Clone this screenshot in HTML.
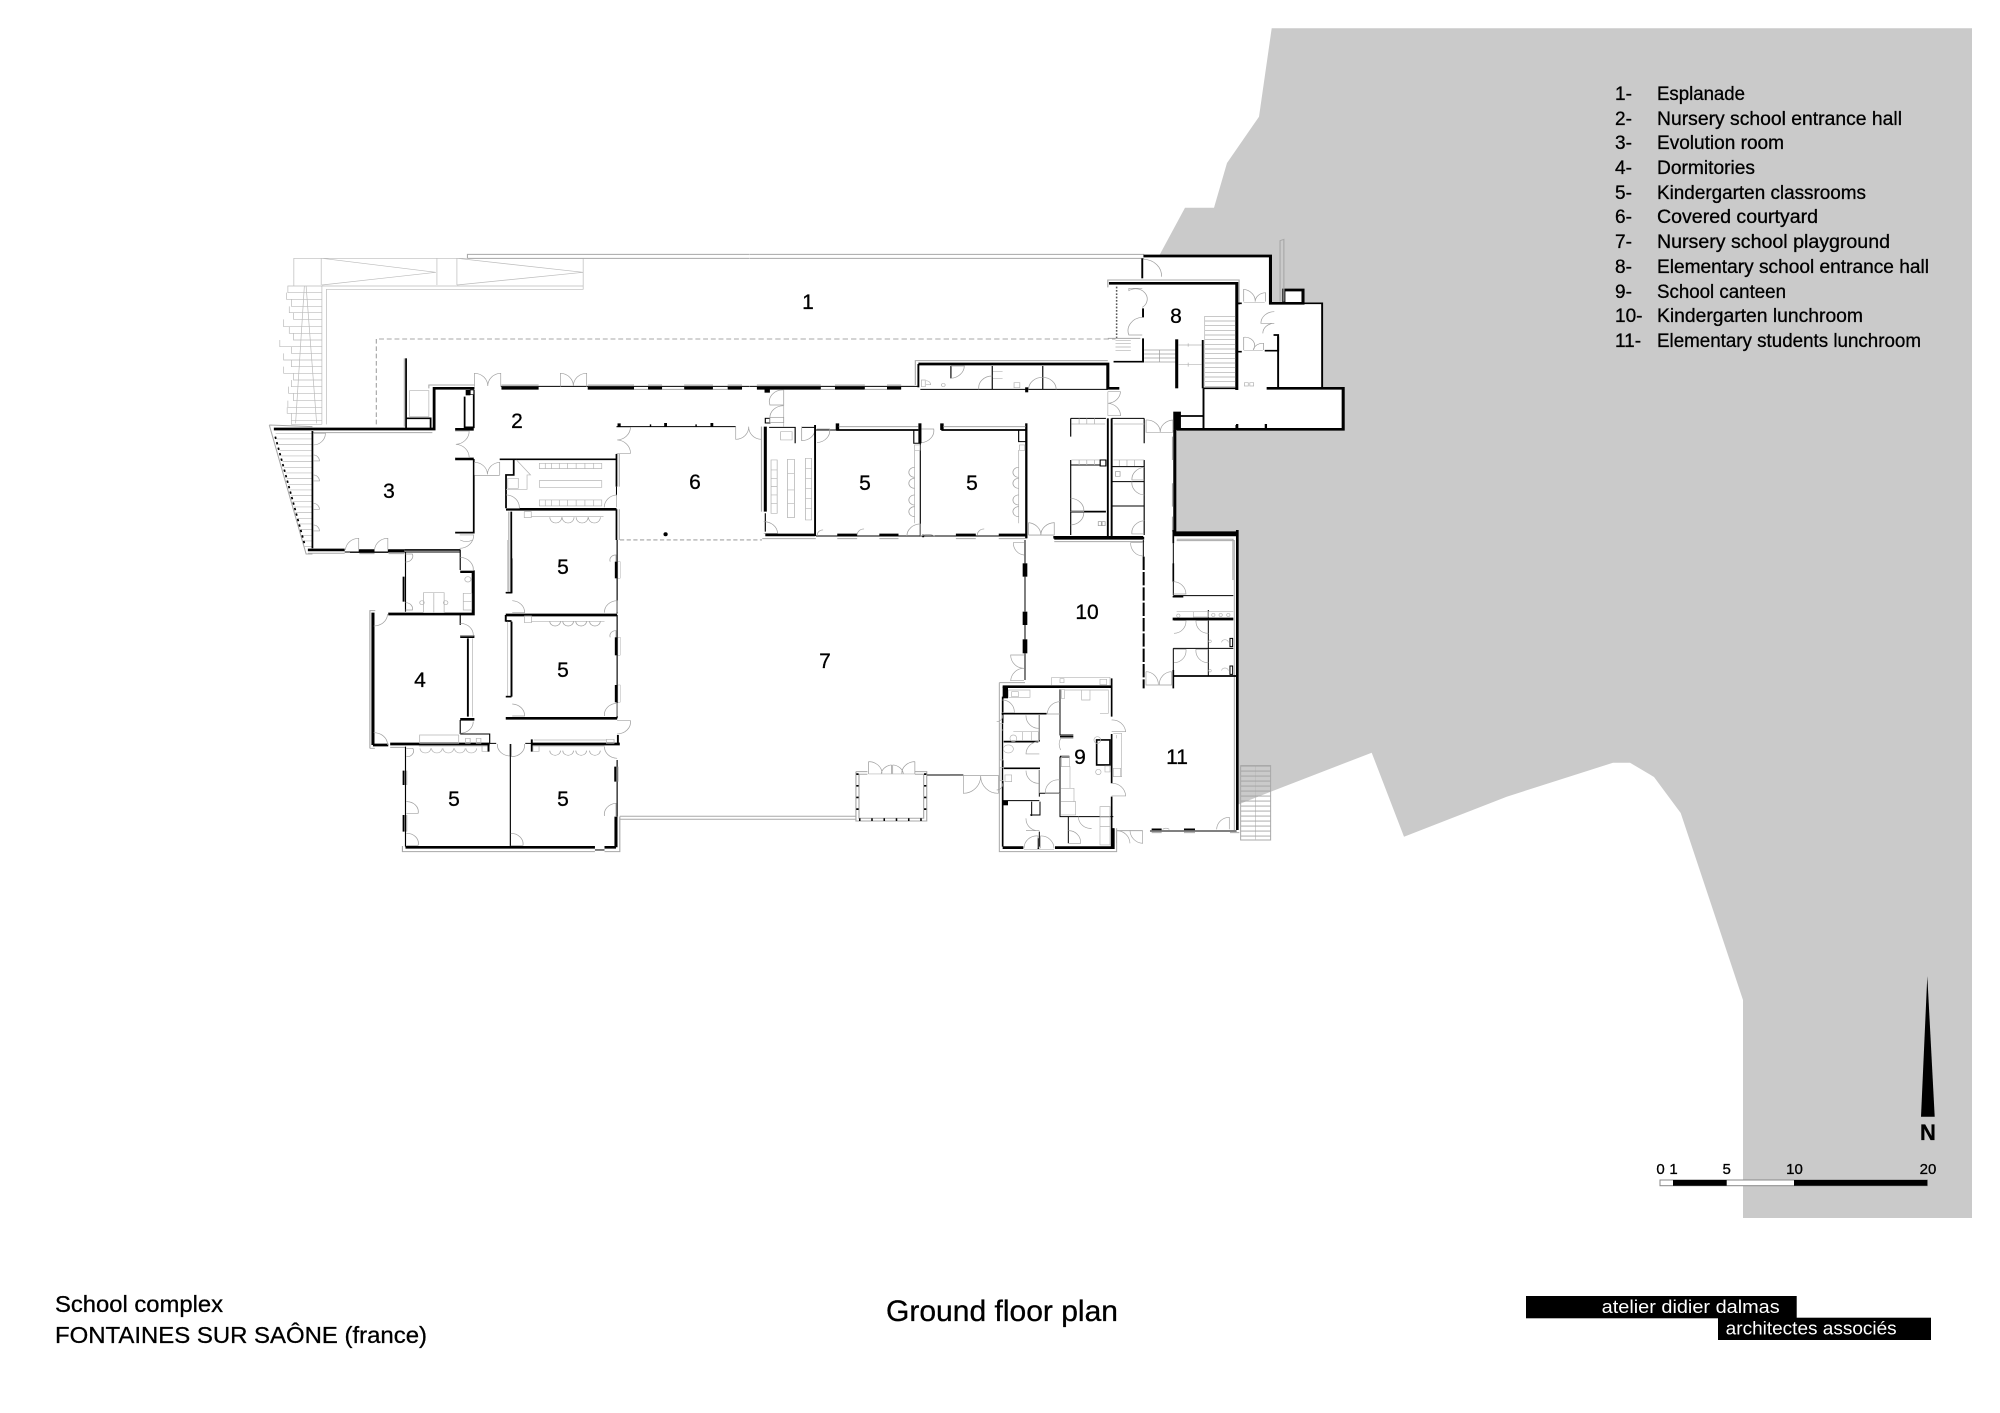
<!DOCTYPE html>
<html><head><meta charset="utf-8"><title>Ground floor plan</title>
<style>
html,body{margin:0;padding:0;background:#fff}
svg{display:block}
text{font-family:"Liberation Sans",sans-serif;fill:#000;stroke:#000;stroke-width:.3}
.w,.m,.t,.g,.d,.l,.f{fill:none}
.w{stroke:#000;stroke-width:8}
.m{stroke:#000;stroke-width:5}
.t{stroke:#000;stroke-width:3}
.g{stroke:#a8a8a8;stroke-width:3}
.d{stroke:#a0a0a0;stroke-width:2}
.l{stroke:#bbb;stroke-width:2}
.f{stroke:#b5b5b5;stroke-width:2}
</style></head><body>
<svg xmlns="http://www.w3.org/2000/svg" width="2000" height="1413" viewBox="0 0 2000 1413">
<rect width="2000" height="1413" fill="#fff"/>
<path fill="#cacaca" d="M1271.7,28.3H1972V1218H1743V1000L1680.7,813L1654,777L1630,762.7H1613L1506.7,796.7L1404,836.7L1371.7,752.7L1270.7,791.7L1237,805V535H1175V430H1343V388H1322V303H1302V290H1284V303H1270.5V256H1159L1185,207.7H1214L1227,163L1259,116.7Z"/>

<!-- ZONE 1 -->
<g transform="translate(250,230) scale(.3507,.3333)">
<path class="l" d="M125,168V85H950V178H218V583M205,583V168H950M203,85V165M533,85V165M590,85V165M205,85L530,127L205,165M590,85L950,127L590,165"/>
<path class="g" d="M620,85V73H1425M620,85H1425"/>
<path class="l" d="M205,168H108V188H205M104,188V208H205M118,208V229H205M112,229V248H205M124,248V268H205M96,268V290H205M112,290V310H205M124,310V330H205M85,330V350H205M118,350V370H205M96,370V390H205M118,390V410H205M96,410V430H205M124,430V450H205M118,450V470H205M110,470V490H205M124,490V512H205M108,512V532H205M106,532V550H205M118,550V572H205M118,572V583H205"/>
<path class="l" d="M155,168L130,580M160,168L190,580"/>
<path d="M360,583V327H1425" fill="none" stroke="#8a8a8a" stroke-width="2.5" stroke-dasharray="14 8"/>
<!-- left triangular stair -->
<path class="g" d="M55,585L178,590M55,585L160,972L178,972"/>
<path class="l" d="M73,610H178M77,627H178M81,644H178M85,661H178M89,678H178M93,695H178M97,712H178M101,729H178M105,746H178M109,763H178M113,780H178M117,797H178M121,814H178M125,831H178M129,848H178M134,865H178M138,882H178M142,899H178M146,916H178M150,933H178M154,950H178"/>
<path d="M72,620L155,940" fill="none" stroke="#000" stroke-width="5" stroke-dasharray="7 10"/>
<!-- walls -->
<path class="w" d="M68,597H525V475H640"/>
<path class="m" d="M445,385V597"/>
<path class="g" d="M440,385V590M510,475V465H640"/>
<path class="g" d="M178,608H520"/>
<path class="m" d="M445,565H515V597"/>
<rect x="455" y="482" width="55" height="78" class="f"/>
<path class="m" d="M612,500V592H638V480"/>
<rect x="615" y="480" width="13" height="16" fill="#000"/>
<rect x="628" y="480" width="10" height="14" fill="#fff" stroke="#000" stroke-width="2"/>
<path class="w" d="M585,598H638M585,687H638"/>
<path class="m" d="M638,687V908H585M178,603V955"/>
<path class="w" d="M165,960H270M310,962H355M393,962H440"/>
<path class="t" d="M270,966H600"/>
<path class="m" d="M440,960H600"/>
<path class="g" d="M165,970H270M312,971H355M395,971H440"/>
<!-- corridor north -->
<path class="t" d="M715,469H1425"/>
<path class="w" d="M717,475H823M963,475H1095M1135,475H1175M1238,475H1320M1362,475H1403"/>
<path class="g" d="M717,465H823M963,465H1095M1135,465H1175M1238,465H1320M1362,465H1403M1095,478H1135M1175,478H1238M1320,478H1362"/>
<!-- courtyard north -->
<path class="t" d="M1045,590H1385"/>
<path d="M1048,580h9v10h-9zM1140,583h4v7h-4zM1181,579h8v11h-8zM1270,583h4v7h-4zM1313,579h8v11h-8z" fill="#000"/>
<!-- block south of 2 -->
<path class="m" d="M712,688H1045"/>
<path class="m" d="M752,688V735H730V835"/>
<path class="w" d="M730,838H1045"/>
<path class="m" d="M1045,672V770M1045,838V930"/>
<path class="g" d="M1053,672V770M1053,838V930"/>
<path class="t" d="M1045,770V796"/>
<path class="f" d="M825,700h178v16H825zM825,752h178v20H825zM825,810h178v18H825zM842,700v16M860,700v16M882,700v16M905,700v16M930,700v16M955,700v16M980,700v16M842,810v18M860,810v18M882,810v18M905,810v18M930,810v18M955,810v18M980,810v18"/>
<path class="f" d="M760,690L800,735H790V778H730M735,745h30v30h-30z"/>
<!-- room 5 north walls -->
<path class="m" d="M745,845V1088"/>
<path class="g" d="M738,845V1088"/>
<path class="f" d="M782,845h20v18h-20zM802,860H1008"/>
<path class="d" d="M855,862a17,17 0 0 0 34,0M890,862a17,17 0 0 0 34,0M930,862a17,17 0 0 0 34,0M965,862a17,17 0 0 0 34,0"/>
<!-- doors -->
<path class="d" d="M640,470V430A38,38 0 0 1 678,468M715,470V430A38,38 0 0 0 678,468M885,470V430A38,38 0 0 1 922,468M960,470V430A38,38 0 0 0 922,468"/>
<path class="d" d="M1385,590V628A37,37 0 0 0 1422,590M1458,590V628A37,37 0 0 1 1422,590"/>
<path class="d" d="M1045,592H1085A40,40 0 0 1 1047,630M1045,670H1085A40,40 0 0 0 1047,630"/>
<path class="d" d="M585,603H625A40,40 0 0 1 587,643M585,683H625A40,40 0 0 0 587,643"/>
<path class="d" d="M640,735V697A37,37 0 0 1 677,733M712,735V697A37,37 0 0 0 677,733M640,737H712"/>
<path class="d" d="M180,675a18,18 0 0 1 18,18H180M180,735a18,18 0 0 1 18,18H180M180,820a18,18 0 0 1 18,18H180M180,885a18,18 0 0 1 18,18H180M180,610H215A35,35 0 0 1 180,645"/>
<path class="d" d="M272,960A38,38 0 0 1 310,925V960M355,960A38,38 0 0 1 393,925V960"/>
<path class="d" d="M598,915H638A40,40 0 0 1 598,955"/>
<path class="d" d="M730,795A38,38 0 0 1 768,835H730M1010,832A38,38 0 0 1 1045,795V832"/>
<!-- courtyard dashed -->
<path d="M1055,930H1460" fill="none" stroke="#8a8a8a" stroke-width="2.5" stroke-dasharray="12 7"/>
<circle cx="1185" cy="913" r="6" fill="#000"/>
</g>

<!-- ZONE 2 -->
<g transform="translate(750,230) scale(.3827,.3333)">
<path class="g" d="M0,73H1030M0,85H1030"/>
<path d="M0,327H955" fill="none" stroke="#8a8a8a" stroke-width="2.5" stroke-dasharray="14 8"/>
<path class="w" d="M1028,78H1360V220H1445V180H1395V220"/>
<path class="m" d="M1025,85V145"/>
<path class="d" d="M1028,88A48,48 0 0 1 1075,140"/>
<path class="g" d="M935,172V150H1278V225"/>
<path class="w" d="M938,160H1272V480"/>
<path class="m" d="M1272,220H1285M1272,365H1285M1345,362H1380V315H1368"/>
<path class="d" d="M1025,175H990V182A30,30 0 0 1 1025,232M1025,315H990A40,40 0 0 1 1025,262"/>
<path class="m" d="M1027,235V262M1027,325V395H950"/>
<path d="M958,170V325" fill="none" stroke="#555" stroke-width="4" stroke-dasharray="5 5"/>
<path d="M975,330V370" fill="none" stroke="#b0b0b0" stroke-width="40" stroke-dasharray="2 8"/>
<path class="g" d="M935,325H1020"/>
<path class="d" d="M1030,360H1115M1030,372H1115M1030,384H1115M1030,396H1115M1070,360V396"/>
<path class="w" d="M1115,328V475"/>
<path class="m" d="M1183,330V475"/>
<path class="f" d="M1120,345H1180M1120,404H1180M1145,340V350M1145,398V410"/>
<path d="M1228,258V470" fill="none" stroke="#a8a8a8" stroke-width="80" stroke-dasharray="2 12"/>
<path class="l" d="M1188,258V470"/>
<path class="m" d="M1185,475H1275M1185,475V595M1125,558H1183"/>
<rect x="1106" y="545" width="20" height="55" fill="#000"/>
<path class="w" d="M1115,598H1550V475H1350"/>
<path class="m" d="M1380,475V320M1495,475V220H1370"/>
<path class="t" d="M1270,585V598M1348,585V598"/>
<path d="M1270,582h6v16h-6zM1345,582h6v16h-6z" fill="#000"/>
<path class="g" d="M1385,215V32L1395,28V215"/>
<path class="d" d="M1290,215V178A35,35 0 0 1 1320,215M1347,215V188A28,28 0 0 0 1320,215M1290,360V322A25,25 0 0 1 1315,360M1342,360V340A25,25 0 0 0 1315,360M1370,245A35,35 0 0 0 1335,280H1370A30,30 0 0 0 1340,310"/>
<path class="f" d="M1290,218H1345M1290,362H1340M1292,458h10v10h-10zM1306,458h10v10h-10z"/>
<!-- service wing -->
<path class="g" d="M432,465V392H935"/>
<path class="w" d="M440,402H935V475H965"/>
<path class="m" d="M440,402V472"/>
<path class="t" d="M445,478H935M525,408V445M633,408V478M765,408V478"/>
<path class="d" d="M525,408H560A38,38 0 0 1 525,445M598,478A35,35 0 0 1 633,438M728,478A36,36 0 0 1 800,478"/>
<path class="f" d="M448,450h10v20h-10zM460,452a12,12 0 0 1 12,12H460M505,470a5,5 0 1 1 .1,0M690,458h15v15h-15zM635,425h25M635,445h25"/>
<rect x="719" y="472" width="8" height="15" fill="#000"/>
<!-- corridor north -->
<path class="t" d="M0,469H440"/>
<path class="w" d="M18,475H185M222,475H300M358,475H395"/>
<path class="g" d="M18,465H185M222,465H300M358,465H395M185,478H222M300,478H358"/>
<rect x="38" y="478" width="14" height="10" fill="#000"/>
<path class="d" d="M88,480V525H52A35,35 0 0 1 88,480M88,527A36,36 0 0 0 52,565"/>
<path class="f" d="M88,480V590"/>
<!-- kitchenette -->
<path class="w" d="M40,590V845"/>
<path class="g" d="M30,590V845"/>
<path class="t" d="M40,850V905M50,592H118V640M135,592H170"/>
<rect x="40" y="565" width="12" height="14" fill="#fff" stroke="#000" stroke-width="3"/>
<rect x="52" y="562" width="36" height="16" fill="#fff" stroke="#999" stroke-width="2"/>
<path class="f" d="M80,605h30v25H80zM55,690h16v160H55zM98,688h18v175H98zM145,685h16v185H145zM55,720h16M55,745h16M55,770h16M55,795h16M55,820h16M145,715h16M145,745h16M145,775h16M145,805h16M145,835h16M98,730h18M98,780h18M98,820h18"/>
<path class="d" d="M36,875A36,36 0 0 1 72,910H36M135,590V632A35,35 0 0 0 170,598"/>
<path class="w" d="M40,915H170"/>
<path class="g" d="M32,926H172"/>
<!-- classrooms east -->
<path class="m" d="M170,585V918"/>
<path class="t" d="M172,600H225M445,585V920M722,585V925"/>
<path class="m" d="M225,600H440M500,600H722"/>
<rect x="440" y="580" width="8" height="60" fill="#000"/>
<rect x="719" y="580" width="6" height="345" fill="#000"/>
<path d="M224,580h9v20h-9zM497,580h9v20h-9z" fill="#000"/>
<path class="g" d="M232,590H440M505,590H720"/>
<path class="t" d="M428,600V640H445M702,600V635H720"/>
<path class="f" d="M430,645h14v16h-14zM704,645h14v16h-14zM430,660V880M702,660V880"/>
<path class="d" d="M430,712a15,15 0 0 0 0,30M430,745a15,15 0 0 0 0,30M430,795a15,15 0 0 0 0,30M430,830a15,15 0 0 0 0,30M702,712a15,15 0 0 0 0,30M702,745a15,15 0 0 0 0,30M702,795a15,15 0 0 0 0,30M702,830a15,15 0 0 0 0,30"/>
<path class="t" d="M172,918H720"/>
<path class="w" d="M228,915H280M338,915H388M450,918H455M538,915H590M650,915H720"/>
<path class="g" d="M228,926H280M338,926H388M538,926H590M650,926H720"/>
<path class="d" d="M175,597H208A36,36 0 0 1 175,638M448,597H480A36,36 0 0 1 448,638M176,918a15,15 0 0 1 15,-18M280,915a18,18 0 0 1 18,-18M594,915a18,18 0 0 1 18,-18M448,918A35,35 0 0 1 482,918M445,920V882A36,36 0 0 0 410,918"/>
<!-- bathrooms -->
<path class="w" d="M795,925H1030"/>
<path class="g" d="M795,935H1030"/>
<path class="t" d="M838,565V620M838,690V915M838,565H930M945,565H1030M1030,565V640M838,705H930M945,710H1030M1030,690V915M945,755H1030M945,828H1030"/>
<path class="m" d="M935,565V918M945,565V918M838,845H930"/>
<path class="f" d="M840,582H928M950,582H1030M860,565V582M880,565V582M900,565V582M840,690H930M950,690H1030M860,690V705M880,690V705M900,690V705M965,690V708M985,690V708M1005,690V708"/>
<rect x="915" y="690" width="15" height="18" fill="#fff" stroke="#000" stroke-width="3"/>
<path class="d" d="M838,805A36,36 0 0 1 872,845H838M838,885A36,36 0 0 0 872,847M1030,712A36,36 0 0 0 998,750H1030M1030,795A36,36 0 0 1 998,755M1030,872A36,36 0 0 0 998,912H1030M955,725h12v14h-12zM910,875h8v12h-8zM920,875h8v12h-8z"/>
<path class="d" d="M935,485H968A36,36 0 0 1 935,520M935,557H968A36,36 0 0 0 935,520M1035,570V607H1072A36,36 0 0 0 1035,570M1105,570V607H1072A36,36 0 0 1 1105,570"/>
<path class="f" d="M1035,607H1105M935,485V557"/>
<path class="d" d="M728,878V915H795V878A37,37 0 0 0 760,915A37,37 0 0 0 728,878"/>
<path class="f" d="M728,916H795"/>
<!-- east corridor wall -->
<path class="w" d="M1110,600V915"/>
<path class="g" d="M1104,620V690M1104,760V830M1104,860V905"/>
<path class="w" d="M1108,915H1275"/>
<path class="g" d="M1115,928H1262V1050"/>
</g>

<!-- ZONE 3 -->
<g transform="translate(350,540) scale(.3827,.3333)">
<path class="t" d="M145,35V215"/>
<path class="m" d="M140,110V185"/>
<path class="w" d="M100,222H322V95H288"/>
<path class="t" d="M288,30V90M0,37H100"/>
<path class="d" d="M145,42h18a18,18 0 0 1 -18,24M145,210h18a18,18 0 0 0 -18,-22M288,52A36,36 0 0 1 322,92H288M288,0A30,30 0 0 0 320,0"/>
<path class="f" d="M192,158h54v60h-54zM219,158v60M188,182a6,6 0 1 0 .1,0M250,182a6,6 0 1 1 -.1,0M296,160h22v50h-22zM296,185h22M308,110a8,8 0 1 0 .1,0"/>
<!-- room 4 -->
<path class="w" d="M60,218V615"/>
<path class="g" d="M52,625V212H66M52,625H65M105,622H145"/>
<path class="w" d="M60,615H100M105,612H365"/>
<path class="t" d="M288,225V255M288,540V582M288,582H365V610"/>
<path class="w" d="M288,290H325M288,538H325"/>
<path class="m" d="M308,295V530"/>
<path class="l" d="M320,295V530"/>
<path class="d" d="M288,250A35,35 0 0 1 322,288H288M288,580A35,35 0 0 0 322,545M62,258A36,36 0 0 0 98,222M62,578A36,36 0 0 1 98,615"/>
<path class="f" d="M182,585H284V610H182zM180,618H360M183,625a14,14 0 0 0 28,0M213,625a14,14 0 0 0 28,0M243,625a14,14 0 0 0 28,0M273,625a14,14 0 0 0 28,0M303,625a14,14 0 0 0 28,0M302,595h12v15h-12zM330,595h12v15h-12zM345,618h15v16h-15z"/>
<path class="m" d="M362,612V635M475,598V635"/>
<!-- room 5 A -->
<path class="t" d="M422,0V158M698,0V220M407,158H422"/>
<path class="m" d="M407,158H422M422,55V160"/>
<path class="l" d="M412,0V155"/>
<path class="w" d="M407,225H698"/>
<path class="d" d="M424,182A34,34 0 0 1 456,218H424M665,218A34,34 0 0 1 698,182V218M680,65a15,15 0 0 1 15,-20V65"/>
<rect x="692" y="65" width="12" height="50" fill="#000"/>
<rect x="700" y="65" width="6" height="50" fill="#fff" stroke="#999"/>
<!-- room 5 B -->
<path class="m" d="M407,225V245M407,243H422M422,245V470"/>
<path class="l" d="M412,245V470"/>
<path class="m" d="M407,470H422"/>
<path class="t" d="M698,225V535"/>
<path class="f" d="M456,228h18v20h-18zM474,244H665"/>
<path class="d" d="M522,244a14,14 0 0 0 28,0M556,244a14,14 0 0 0 28,0M590,244a14,14 0 0 0 28,0M626,244a14,14 0 0 0 28,0"/>
<path class="d" d="M424,492A34,34 0 0 1 456,528H424M665,528A34,34 0 0 1 698,490V528M680,292a15,15 0 0 1 15,-20V292"/>
<rect x="692" y="292" width="12" height="54" fill="#000"/>
<rect x="700" y="292" width="6" height="54" fill="#fff" stroke="#999"/>
<rect x="692" y="435" width="12" height="52" fill="#000"/>
<rect x="700" y="435" width="6" height="52" fill="#fff" stroke="#999"/>
<path class="w" d="M407,535H698"/>
<path class="d" d="M698,542H733A36,36 0 0 1 698,582"/>
<!-- lower rooms -->
<path class="w" d="M475,612H705"/>
<path class="m" d="M700,585V615"/>
<path class="f" d="M480,600H670M670,598h20v12h-20z"/>
<path class="t" d="M365,610H382M458,610H475"/>
<path class="d" d="M385,612A34,34 0 0 0 418,648V612M456,612A34,34 0 0 1 422,650V612"/>
<path class="f" d="M478,618h16v16h-16zM494,618H665"/>
<path class="d" d="M522,632a14,14 0 0 0 28,0M556,632a14,14 0 0 0 28,0M590,632a14,14 0 0 0 28,0M626,632a14,14 0 0 0 28,0M665,620A34,34 0 0 0 698,655"/>
<path class="t" d="M145,620V920M698,660V830"/>
<path class="t" d="M419,612V920"/>
<path class="m" d="M140,692V735M140,825V875M693,680V725"/>
<path class="g" d="M148,692V735M148,825V875M700,680V725"/>
<path class="d" d="M147,650a17,17 0 0 0 17,-25H147M147,785A30,30 0 0 1 178,820H147M147,880A30,30 0 0 1 178,916H147M420,880A32,32 0 0 1 452,916H420M665,828A33,33 0 0 1 695,790V828"/>
<path class="w" d="M145,922H640M665,922H695M695,830V922"/>
<path class="g" d="M137,918V935H640M665,935H705V830"/>
<path class="t" d="M640,930H665"/>
<!-- playground double line -->
<path class="g" d="M705,829H1322M705,838H1322"/>
<!-- pavilion -->
<path class="g" d="M1322,695H1352M1476,695H1507V843H1322V695M1330,703H1352M1476,703H1499V835H1330V703"/>
<path d="M1326,700V835" fill="none" stroke="#000" stroke-width="6" stroke-dasharray="5 30"/>
<path d="M1503,700V835" fill="none" stroke="#000" stroke-width="6" stroke-dasharray="5 30"/>
<path d="M1330,839H1499" fill="none" stroke="#000" stroke-width="8" stroke-dasharray="4 28"/>
<path class="d" d="M1355,665V702M1355,665A35,35 0 0 1 1390,700M1415,675V702M1415,675A30,30 0 0 0 1388,702M1418,675V702M1418,675A30,30 0 0 1 1446,702M1476,665V702M1476,665A35,35 0 0 0 1442,702"/>
<path class="f" d="M1355,702H1476"/>
<path class="t" d="M1508,705H1568"/>
</g>

<!-- ZONE 4 -->
<g transform="translate(950,530) scale(.3333,.3333)">
<path class="t" d="M225,30V100M225,140V245M225,285V328M225,370V450"/>
<rect x="218" y="100" width="14" height="40" fill="#000"/>
<rect x="218" y="245" width="14" height="40" fill="#000"/>
<rect x="218" y="328" width="14" height="42" fill="#000"/>
<path class="d" d="M222,38H190A36,36 0 0 0 222,75M222,375H182A40,40 0 0 0 222,415M222,415A40,40 0 0 0 182,452H222"/>
<path class="w" d="M310,22H580"/>
<path class="t" d="M580,30V80"/>
<path d="M581,80V475" fill="none" stroke="#000" stroke-width="6" stroke-dasharray="40 6"/>
<path class="d" d="M578,38H542A38,38 0 0 0 578,78"/>
<path class="m" d="M670,0V40"/>
<path class="t" d="M670,40V100M670,100V195"/>
<path class="m" d="M670,100V155"/>
<path class="w" d="M670,8H862"/>
<path class="w" d="M862,0V900"/>
<path class="g" d="M853,30V900M680,32H853"/>
<path class="t" d="M670,197H850"/>
<path class="m" d="M668,200H700"/>
<path class="w" d="M668,267H850"/>
<path class="t" d="M670,355H775M775,355H850M775,240V438M670,440V355"/>
<path class="m" d="M670,438H860M670,420V475"/>
<path class="d" d="M670,155A38,38 0 0 1 708,192H670M672,310A36,36 0 0 0 708,272H672M775,310A36,36 0 0 1 738,272H775M672,398A36,36 0 0 0 708,358H672M775,398A36,36 0 0 1 738,358H775"/>
<path class="f" d="M680,245H850M730,245h45v16h-45zM685,252a5,5 0 1 0 .1,0M790,250a5,5 0 1 0 .1,0M812,250a5,5 0 1 0 .1,0M835,250a5,5 0 1 0 .1,0M780,330a4,4 0 1 0 .1,0M815,337a10,8 0 0 1 20,0M780,418a4,4 0 1 0 .1,0M815,422a10,8 0 0 1 20,0"/>
<path class="t" d="M840,325h8v25h-8zM840,408h8v25h-8z"/>
<path class="d" d="M588,425V465H625A38,38 0 0 0 588,425M665,425V465H628A38,38 0 0 1 665,425"/>
<path class="f" d="M588,465H665"/>
<!-- Canteen block -->
<path class="g" d="M148,458H225M148,458V965H500V895"/>
<path class="w" d="M158,470H485"/>
<rect x="158" y="470" width="16" height="35" fill="#000"/>
<path class="m" d="M485,445V560M485,612V760M485,800V950"/>
<path class="w" d="M158,953H220M315,953H490V895"/>
<path class="m" d="M158,500V950"/>
<path class="m" d="M155,551H290"/>
<path class="t" d="M330,478V615H370M330,680V860H490M355,860V940M268,555V635M268,720V800M270,815V855H240M245,815V858M268,790H330M268,905V950"/>
<path class="m" d="M160,715H270M440,630H480V705H440Z"/>
<path class="t" d="M160,812H268"/>
<path class="m" d="M265,925V958M330,620H370M330,680H358M160,635H265"/>
<rect x="160" y="812" width="14" height="14" fill="#000"/>
<path class="f" d="M305,442H480V466M305,442V466M330,446h12v12h-12zM450,448h20v16h-20zM335,478h8v28h-8zM345,480H475V550H450M395,480h25v30h-25zM175,480h65v22H175zM185,485h20v15h-20zM190,605h75v28M218,605v28M245,605v28M190,615a10,10 0 1 0 .1,0M175,645a15,12 0 1 0 .1,0M335,680h24v30h-24zM332,710h28v65h-28zM332,775h40v40h-40zM332,815h45v40h-45zM450,830h30v115h-30zM450,860h30M450,890h30M490,610h25V740H490M500,615v10M490,715h22v25h-22zM165,735h20v20h-20zM442,620a10,10 0 1 0 .1,0M445,718a8,8 0 1 0 .1,0M465,708h15v18h-15z"/>
<path class="d" d="M485,570A40,40 0 0 1 527,605H485M485,760A40,40 0 0 1 527,798H485M157,510A36,36 0 0 1 193,548H157M330,515A38,38 0 0 0 292,552H330M228,556A38,38 0 0 0 268,595M268,635A38,38 0 0 0 228,672H268M228,722A38,38 0 0 0 268,760M330,750A38,38 0 0 0 286,790H330M370,625H332A38,38 0 0 0 332,660M385,860A36,36 0 0 0 425,895M355,902A36,36 0 0 1 392,940H355M228,865A36,36 0 0 0 268,902H228M222,955A38,38 0 0 1 264,918V955M272,955V918A38,38 0 0 1 312,955"/>
<path class="f" d="M268,555V630M268,720V790M222,958H312"/>
<path class="f" d="M160,600H155M150,580h10V690H150zM150,712h10v40H150z"/>
<path class="d" d="M158,555a18,18 0 0 1 -18,20M158,760a18,18 0 0 1 -18,20"/>
<path class="t" d="M0,735H40"/>
<path class="d" d="M40,735V790A52,52 0 0 0 92,738M145,735V790A52,52 0 0 1 92,738M40,737H145"/>
<!-- south wall 11 -->
<path class="m" d="M490,895V950"/>
<path class="t" d="M600,903H860"/>
<path class="m" d="M605,898H635M702,898H735"/>
<path class="g" d="M605,908H635M702,908H735M840,908H868"/>
<path class="d" d="M500,940V902A40,40 0 0 1 540,940M578,902V940A40,40 0 0 1 540,900M638,898a18,18 0 0 1 20,0M800,898A38,38 0 0 1 838,862V898"/>
<path class="g" d="M500,902H578"/>
<!-- east stairs -->
<path class="g" d="M872,707H962V930H872Z"/>
<path class="l" d="M917,707V930"/>
<path d="M917,707V930" fill="none" stroke="#a0a0a0" stroke-width="88" stroke-dasharray="2.5 12.5"/>
</g>

<!-- Room numbers -->
<g font-size="21">
<text x="808" y="309" text-anchor="middle">1</text>
<text x="517" y="428" text-anchor="middle">2</text>
<text x="389" y="498" text-anchor="middle">3</text>
<text x="420" y="687" text-anchor="middle">4</text>
<text x="563" y="574" text-anchor="middle">5</text>
<text x="563" y="677" text-anchor="middle">5</text>
<text x="454" y="806" text-anchor="middle">5</text>
<text x="563" y="806" text-anchor="middle">5</text>
<text x="865" y="490" text-anchor="middle">5</text>
<text x="972" y="490" text-anchor="middle">5</text>
<text x="695" y="489" text-anchor="middle">6</text>
<text x="825" y="668" text-anchor="middle">7</text>
<text x="1176" y="323" text-anchor="middle">8</text>
<text x="1080" y="764" text-anchor="middle">9</text>
<text x="1087" y="619" text-anchor="middle">10</text>
<text x="1177" y="764" text-anchor="middle">11</text>
</g>

<!-- Legend -->
<g font-size="19">
<text x="1615" y="100">1-</text><text x="1657" y="100" textLength="88" lengthAdjust="spacingAndGlyphs">Esplanade</text>
<text x="1615" y="125">2-</text><text x="1657" y="125" textLength="245" lengthAdjust="spacingAndGlyphs">Nursery school entrance hall</text>
<text x="1615" y="149">3-</text><text x="1657" y="149" textLength="127" lengthAdjust="spacingAndGlyphs">Evolution room</text>
<text x="1615" y="174">4-</text><text x="1657" y="174" textLength="98" lengthAdjust="spacingAndGlyphs">Dormitories</text>
<text x="1615" y="199">5-</text><text x="1657" y="199" textLength="209" lengthAdjust="spacingAndGlyphs">Kindergarten classrooms</text>
<text x="1615" y="223">6-</text><text x="1657" y="223" textLength="161" lengthAdjust="spacingAndGlyphs">Covered courtyard</text>
<text x="1615" y="248">7-</text><text x="1657" y="248" textLength="233" lengthAdjust="spacingAndGlyphs">Nursery school playground</text>
<text x="1615" y="273">8-</text><text x="1657" y="273" textLength="272" lengthAdjust="spacingAndGlyphs">Elementary school entrance hall</text>
<text x="1615" y="298">9-</text><text x="1657" y="298" textLength="129" lengthAdjust="spacingAndGlyphs">School canteen</text>
<text x="1615" y="322">10-</text><text x="1657" y="322" textLength="206" lengthAdjust="spacingAndGlyphs">Kindergarten lunchroom</text>
<text x="1615" y="347">11-</text><text x="1657" y="347" textLength="264" lengthAdjust="spacingAndGlyphs">Elementary students lunchroom</text>
</g>

<!-- North arrow and scale -->
<polygon points="1927.3,976 1934.7,1116.7 1921,1116.7" fill="#000"/>
<text x="1928" y="1140" font-size="22" font-weight="bold" text-anchor="middle">N</text>
<g font-size="15" text-anchor="middle">
<text x="1660.5" y="1174">0</text><text x="1673.5" y="1174">1</text><text x="1726.7" y="1174">5</text><text x="1794.5" y="1174">10</text><text x="1928" y="1174">20</text>
</g>
<rect x="1660" y="1180" width="267.3" height="5.7" fill="#fff" stroke="#888" stroke-width="1"/>
<rect x="1673" y="1180" width="53.7" height="5.7" fill="#000"/>
<rect x="1794" y="1180" width="133.3" height="5.7" fill="#000"/>

<!-- Titles -->
<text x="55" y="1312" font-size="23" textLength="168" lengthAdjust="spacingAndGlyphs">School complex</text>
<text x="55" y="1343" font-size="23" textLength="372" lengthAdjust="spacingAndGlyphs">FONTAINES SUR SAÔNE (france)</text>
<text x="886" y="1321" font-size="30" textLength="232" lengthAdjust="spacingAndGlyphs">Ground floor plan</text>

<!-- Logo -->
<rect x="1526" y="1296" width="270.7" height="22.3" fill="#000"/>
<rect x="1718" y="1317.7" width="213" height="22.3" fill="#000"/>
<text x="1601.7" y="1313" font-size="18" textLength="178" lengthAdjust="spacingAndGlyphs" style="fill:#fff;stroke:none">atelier didier dalmas</text>
<text x="1725.7" y="1334.5" font-size="18" textLength="171" lengthAdjust="spacingAndGlyphs" style="fill:#fff;stroke:none">architectes associés</text>
</svg>
</body></html>
